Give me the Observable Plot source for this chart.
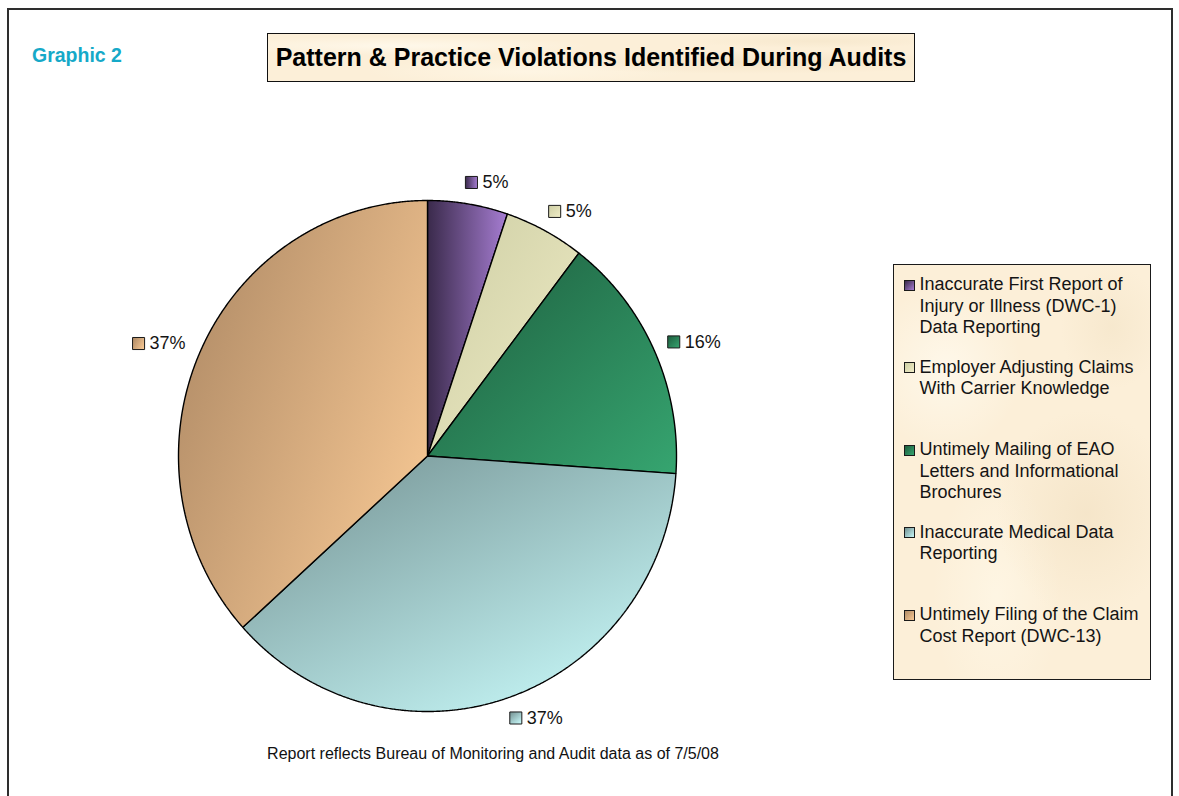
<!DOCTYPE html>
<html>
<head>
<meta charset="utf-8">
<script src="https://cdn.jsdelivr.net/npm/d3@7"></script>
<script src="https://cdn.jsdelivr.net/npm/@observablehq/plot@0.6"></script>
<style>
  html, body { margin: 0; padding: 0; background: #fff; }
  body { width: 1179px; height: 796px; position: relative; overflow: hidden; font-family: Arial, "Liberation Sans", sans-serif; }
  #chart { position: absolute; left: 0; top: 0; }
  .frame { position: absolute; left: 7px; top: 8px; width: 1166px; height: 900px; box-sizing: border-box;
           border: 2.5px solid #2e2e2e; border-bottom: none; pointer-events: none; }
  .parch { background-color: #fcefd8;
           background-image:
             radial-gradient(ellipse 30% 20% at 20% 25%, rgba(255,250,238,0.8), rgba(255,250,238,0) 100%),
             radial-gradient(ellipse 35% 25% at 75% 60%, rgba(240,222,190,0.55), rgba(240,222,190,0) 100%),
             radial-gradient(ellipse 25% 30% at 40% 80%, rgba(255,248,232,0.7), rgba(255,248,232,0) 100%),
             radial-gradient(ellipse 20% 15% at 85% 15%, rgba(242,226,196,0.5), rgba(242,226,196,0) 100%); }
  .graphic { position: absolute; left: 32px; top: 45px; font-size: 19.5px; line-height: 20px; font-weight: bold; color: #16a9c8; }
  .title { position: absolute; left: 267px; top: 33px; width: 648px; height: 49px; box-sizing: border-box;
           border: 1.5px solid #111; display: flex; align-items: center; justify-content: center;
           font-size: 25px; font-weight: bold; color: #000; white-space: nowrap; }
  .legend { position: absolute; left: 893px; top: 264px; width: 258px; height: 416px; box-sizing: border-box;
            border: 1.5px solid #1a1a1a; padding: 9px 0 0 9.5px; }
  .item { height: 82.5px; display: flex; align-items: flex-start; }
  .sw { width: 11px; height: 11px; box-sizing: border-box; border: 1px solid #1a1a1a; margin-top: 5.5px; margin-right: 5px; flex: none; }
  .lt { font-size: 18px; line-height: 21.5px; color: #141414; white-space: pre; }
  .caption { position: absolute; left: 0; width: 986px; top: 745px; text-align: center; font-size: 16px; line-height: 17px; color: #111; }
</style>
</head>
<body>
<div id="chart"></div>
<div class="frame"></div>
<div class="graphic">Graphic 2</div>
<div class="title parch">Pattern &amp; Practice Violations Identified During Audits</div>
<div class="legend parch" id="legend"></div>
<div class="caption">Report reflects Bureau of Monitoring and Audit data as of 7/5/08</div>
<script>
// ---- data ----
const categories = [
  "Inaccurate First Report of\nInjury or Illness (DWC-1)\nData Reporting",
  "Employer Adjusting Claims\nWith Carrier Knowledge",
  "Untimely Mailing of EAO\nLetters and Informational\nBrochures",
  "Inaccurate Medical Data\nReporting",
  "Untimely Filing of the Claim\nCost Report (DWC-13)"
];
const shares = [5.2, 5.2, 15.7, 37.2, 36.7];
const shareLabels = ["5%", "5%", "16%", "37%", "37%"];
// gradient colour stops (dark -> light) for each slice
const colorDark  = ["#3a2a4b", "#cdcea4", "#1d5c3d", "#728f90", "#b08b66"];
const colorLight = ["#a67dd2", "#f0ecc6", "#36a570", "#c6f7f7", "#f7c894"];
const gradDir = [[0,0,1,0],[0,0,1,1],[0,0,1,1],[0,0,0.8,1],[0,0.2,1,0.8]];

// ---- geometry from data ----
const arcs = d3.pie().sort(null).value(d => d)(shares);
const slices = arcs.map((a, i) => {
  const pts = [{x: 0, y: 0}];
  const n = Math.max(4, Math.ceil((a.endAngle - a.startAngle) / 0.005));
  for (let j = 0; j <= n; j++) {
    const t = a.startAngle + (a.endAngle - a.startAngle) * j / n;
    pts.push({x: Math.sin(t), y: Math.cos(t)});
  }
  pts.push({x: 0, y: 0});
  return pts;
});

const xRange = [178, 676], yRange = [711, 200];
const pxPerUnitX = (xRange[1] - xRange[0]) / 2;
const labelR = 1.085;
const fs = 18;
const labels = arcs.map((a, i) => {
  const m = (a.startAngle + a.endAngle) / 2;
  const ax = labelR * Math.sin(m), ay = labelR * Math.cos(m);
  const text = shareLabels[i];
  const w = fs * (text.replace("%", "").length * 0.556 + 0.889);
  const left = ax < -0.05;
  // square centre; on the left side the whole label group sits left of the anchor point
  const sx = left ? ax - (w + 6) / pxPerUnitX : ax;
  return {i, text, sx, ay};
});

const marks = [];
slices.forEach((pts, i) => {
  marks.push(Plot.line(pts, {x: "x", y: "y", fill: `url(#slice${i})`, stroke: "#000", strokeWidth: 1.4, strokeLinejoin: "miter"}));
});
labels.forEach(l => {
  marks.push(Plot.dot([l], {x: "sx", y: "ay", symbol: "square", r: 6.8, fill: `url(#sq${l.i})`, stroke: "#1a1a1a", strokeWidth: 1}));
  marks.push(Plot.text([l], {x: "sx", y: "ay", text: "text", dx: 11, textAnchor: "start", fontSize: fs, fill: "#141414",
    fontFamily: "Arial, 'Liberation Sans', sans-serif"}));
});

const svg = Plot.plot({
  width: 1179, height: 796,
  margin: 0,
  x: {domain: [-1, 1], range: xRange, axis: null},
  y: {domain: [-1, 1], range: yRange, axis: null},
  style: {background: "transparent", overflow: "visible"},
  marks
});

const defs = d3.select(svg).insert("defs", ":first-child");
categories.forEach((c, i) => {
  ["slice", "sq"].forEach(prefix => {
    const g = defs.append("linearGradient").attr("id", prefix + i)
      .attr("x1", gradDir[i][0]).attr("y1", gradDir[i][1]).attr("x2", gradDir[i][2]).attr("y2", gradDir[i][3]);
    g.append("stop").attr("offset", 0).attr("stop-color", colorDark[i]);
    g.append("stop").attr("offset", 1).attr("stop-color", colorLight[i]);
  });
});
document.getElementById("chart").appendChild(svg);

// legend
const legend = document.getElementById("legend");
categories.forEach((c, i) => {
  const item = document.createElement("div");
  item.className = "item";
  const sw = document.createElement("div");
  sw.className = "sw";
  sw.style.background = `linear-gradient(135deg, ${colorDark[i]}, ${colorLight[i]})`;
  const t = document.createElement("div");
  t.className = "lt";
  t.textContent = c;
  item.appendChild(sw); item.appendChild(t);
  legend.appendChild(item);
});
</script>
</body>
</html>
